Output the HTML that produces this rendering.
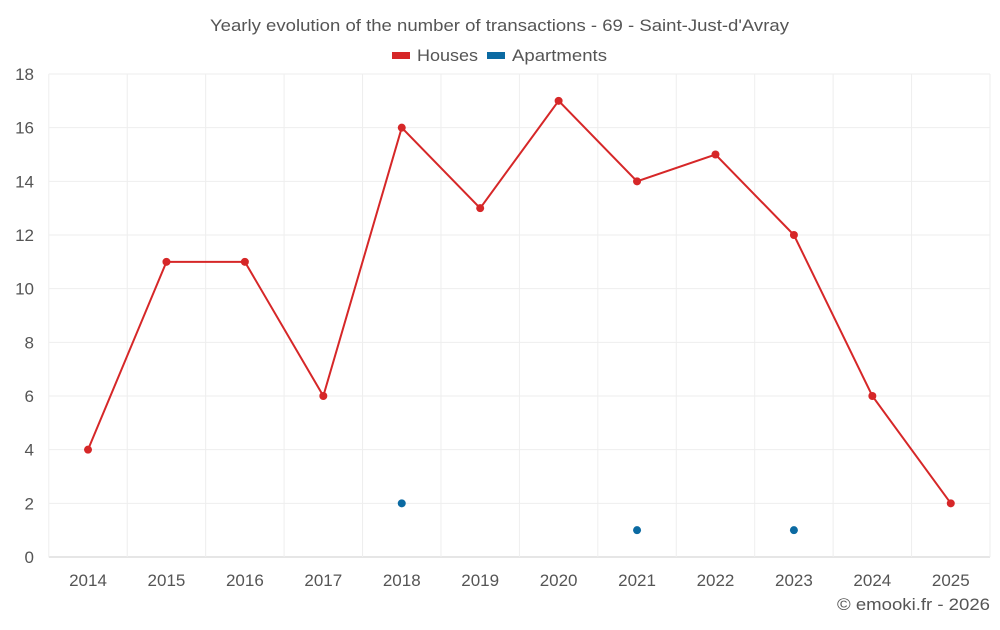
<!DOCTYPE html>
<html><head><meta charset="utf-8"><style>
body{margin:0;background:#fff;width:1000px;height:625px;overflow:hidden;font-family:"Liberation Sans",sans-serif}
</style></head><body>
<svg id="chart" width="1000" height="625" xmlns="http://www.w3.org/2000/svg">
<text x="210" y="31" font-size="17" textLength="579" lengthAdjust="spacingAndGlyphs" fill="#555">Yearly evolution of the number of transactions - 69 - Saint-Just-d'Avray</text>
<g><rect x="392" y="52" width="18" height="7" fill="#d62728"/><text x="417" y="61" font-size="17" textLength="61" lengthAdjust="spacingAndGlyphs" fill="#555">Houses</text></g>
<g><rect x="487" y="52" width="18" height="7" fill="#0b6aa2"/><text x="512" y="61" font-size="17" textLength="95" lengthAdjust="spacingAndGlyphs" fill="#555">Apartments</text></g>
<g id="grid"></g><g id="axes"></g><g id="series"></g>
<text x="837" y="610" font-size="17" textLength="153" lengthAdjust="spacingAndGlyphs" fill="#555">© emooki.fr - 2026</text>
</svg>
<script>
const categories=[2014,2015,2016,2017,2018,2019,2020,2021,2022,2023,2024,2025];
const houses=[4,11,11,6,16,13,17,14,15,12,6,2];
const apartments=[null,null,null,null,2,null,null,1,null,1,null,null];
const yTicks=[0,2,4,6,8,10,12,14,16,18];
const NS="http://www.w3.org/2000/svg";
const L=48.8,R=990,T=74,B=557,yMax=18;
const bw=(R-L)/categories.length;
const x=i=>L+bw*(i+0.5);
const y=v=>B-(v/yMax)*(B-T);
function mk(p,tag,at){const e=document.createElementNS(NS,tag);for(const k in at)e.setAttribute(k,at[k]);p.appendChild(e);return e;}
const g=document.getElementById('grid'),ax=document.getElementById('axes'),s=document.getElementById('series');
yTicks.forEach(t=>{
 const l=mk(g,'line',{x1:L,x2:R,y1:y(t),y2:y(t),stroke:t===0?'#ccc':'#eee'});
 
 
 const tx=mk(ax,'text',{x:34,y:y(t)+6,'text-anchor':'end','font-size':17,fill:'#555'});tx.textContent=t;
 
 
});
for(let i=0;i<=categories.length;i++){
 const l=mk(g,'line',{x1:L+bw*i,x2:L+bw*i,y1:T,y2:B,stroke:'#eee'});
 
 
}
categories.forEach((c,i)=>{
 const tx=mk(ax,'text',{x:x(i),y:586,'text-anchor':'middle','font-size':17,fill:'#555'});tx.textContent=c;
 
 
});
const pl=mk(s,'polyline',{points:houses.map((v,i)=>x(i)+','+y(v)).join(' '),fill:'none',stroke:'#d62728','stroke-width':2});


houses.forEach((v,i)=>{const c=mk(s,'circle',{cx:x(i),cy:y(v),r:4,fill:'#d62728'});
 
 });
apartments.forEach((v,i)=>{if(v===null)return;const c=mk(s,'circle',{cx:x(i),cy:y(v),r:4,fill:'#0b6aa2'});
 
 });
</script>
</body></html>
